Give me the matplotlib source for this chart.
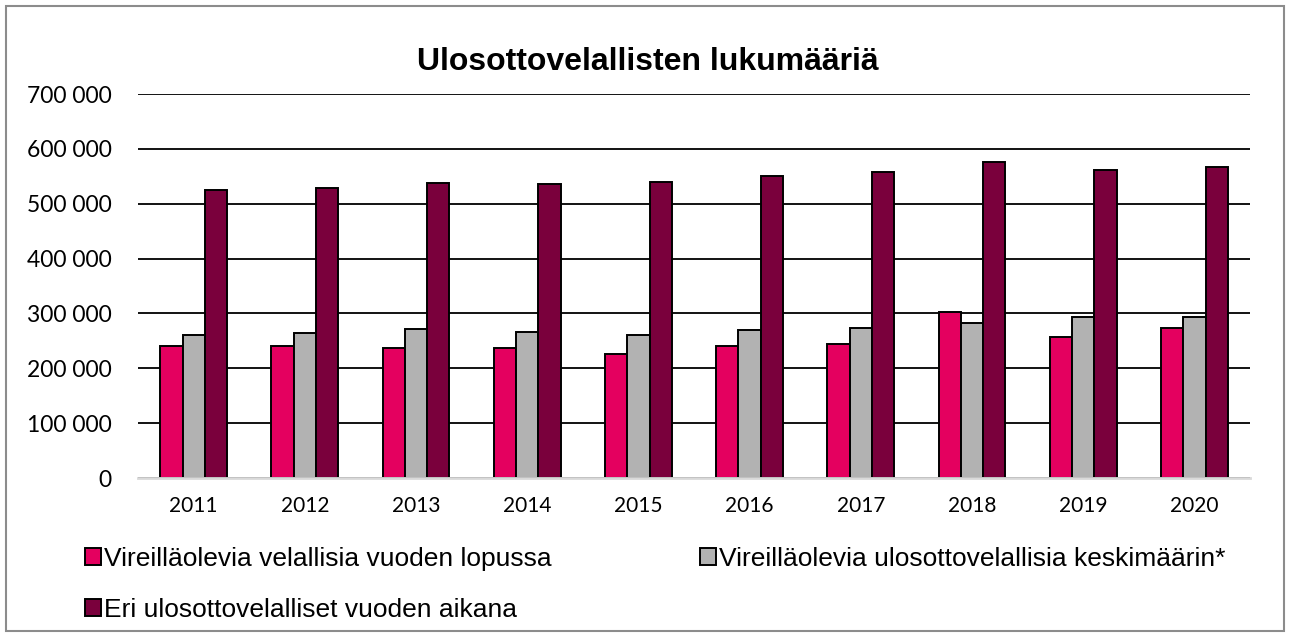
import numpy as np
import matplotlib
matplotlib.use('Agg')
import matplotlib.pyplot as plt
from matplotlib.patches import Rectangle
from matplotlib.ticker import FuncFormatter

# Data
years = ['2011', '2012', '2013', '2014', '2015', '2016', '2017', '2018', '2019', '2020']
vuoden_lopussa = [240800, 240800, 237200, 237800, 226800, 241500, 243900, 301800, 256700, 273800]
keskimaarin = [260400, 264000, 272000, 265900, 260400, 269500, 273200, 282300, 293900, 293900]
vuoden_aikana = [525600, 528000, 538400, 536000, 540200, 550000, 557300, 576200, 561600, 567700]

labels = ['Vireilläolevia velallisia vuoden lopussa',
          'Vireilläolevia ulosottovelallisia keskimäärin*',
          'Eri ulosottovelalliset vuoden aikana']
colors = ['#E4005F', '#B2B2B2', '#7A003C']

fig = plt.figure(figsize=(12.9, 6.37), dpi=100)
ax = fig.add_axes([0.107, 0.2496, 0.862, 0.6028])

x = np.arange(len(years))
w = 0.2
bars = []
for i, vals in enumerate([vuoden_lopussa, keskimaarin, vuoden_aikana]):
    b = ax.bar(x + (i - 1) * w, vals, width=w, color=colors[i],
               edgecolor='black', linewidth=1.4, zorder=3, label=labels[i])
    bars.append(b)

ax.set_xlim(-0.5, len(years) - 0.5)
ax.set_ylim(0, 700000)
ax.set_yticks(range(0, 700001, 100000))
ax.yaxis.set_major_formatter(FuncFormatter(lambda v, p: f'{int(v):,}'.replace(',', ' ')))
ax.set_xticks(x)
ax.set_xticklabels(years)

ax.grid(axis='y', color='black', linewidth=1.3, zorder=0)
ax.set_axisbelow(True)
for s in ['top', 'left', 'right']:
    ax.spines[s].set_visible(False)
ax.spines['bottom'].set_color('#D9D9D9')
ax.spines['bottom'].set_linewidth(2)
ax.spines['bottom'].set_zorder(4)

ax.tick_params(axis='y', length=0, pad=19, labelsize=16.5)
ax.tick_params(axis='x', length=0, pad=13, labelsize=15)
for t in ax.get_yticklabels() + ax.get_xticklabels():
    t.set_fontfamily('Lato')

fig.text(0.502, 0.902, 'Ulosottovelallisten lukumääriä', ha='center', va='center',
         fontsize=23, fontweight='bold', family='Liberation Sans')

# legend: row 1 has two entries, row 2 has the third
fig.legend([bars[0], bars[2], bars[1]], [labels[0], labels[2], labels[1]],
           ncol=2, loc='upper left', bbox_to_anchor=(0.058, 0.158),
           frameon=False, prop={'family': 'Liberation Sans', 'size': 19},
           handlelength=0.6, handleheight=0.6, handletextpad=0.12,
           columnspacing=5.6, labelspacing=1.02, borderaxespad=0)

fig.patches.append(Rectangle((0.005, 0.01), 0.99, 0.98, transform=fig.transFigure,
                             fill=False, edgecolor='#8C8C8C', linewidth=1.5))

fig.savefig('out.png', dpi=100)
